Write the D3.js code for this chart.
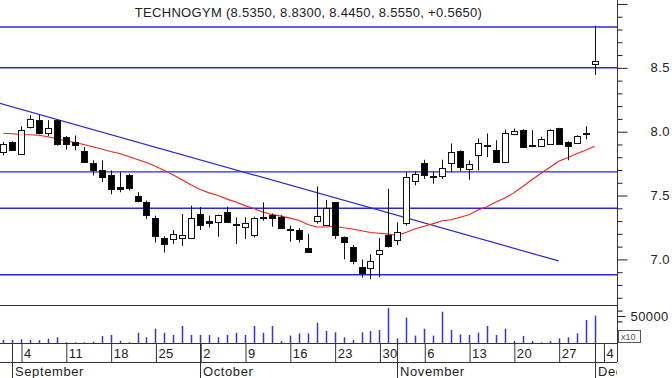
<!DOCTYPE html>
<html>
<head>
<meta charset="utf-8">
<script src="https://cdn.jsdelivr.net/npm/d3@7/dist/d3.min.js"></script>
<style>
  body { margin: 0; background: #fff; }
  svg { display: block; font-family: 'Liberation Sans', Arial, sans-serif; }
</style>
</head>
<body>
<div id="chart"></div>
<script>
// Trading days shown (Aug 31 -> Dec 1, 2017)
const dates = [
  '2017-08-31', '2017-09-01',
  '2017-09-04', '2017-09-05', '2017-09-06', '2017-09-07', '2017-09-08',
  '2017-09-11', '2017-09-12', '2017-09-13', '2017-09-14', '2017-09-15',
  '2017-09-18', '2017-09-19', '2017-09-20', '2017-09-21', '2017-09-22',
  '2017-09-25', '2017-09-26', '2017-09-27', '2017-09-28', '2017-09-29',
  '2017-10-02', '2017-10-03', '2017-10-04', '2017-10-05', '2017-10-06',
  '2017-10-09', '2017-10-10', '2017-10-11', '2017-10-12', '2017-10-13',
  '2017-10-16', '2017-10-17', '2017-10-18', '2017-10-19', '2017-10-20',
  '2017-10-23', '2017-10-24', '2017-10-25', '2017-10-26', '2017-10-27',
  '2017-10-30', '2017-10-31', '2017-11-01', '2017-11-02', '2017-11-03',
  '2017-11-06', '2017-11-07', '2017-11-08', '2017-11-09', '2017-11-10',
  '2017-11-13', '2017-11-14', '2017-11-15', '2017-11-16', '2017-11-17',
  '2017-11-20', '2017-11-21', '2017-11-22', '2017-11-23', '2017-11-24',
  '2017-11-27', '2017-11-28', '2017-11-29', '2017-11-30', '2017-12-01'
];

const open = [
  7.841, 7.920,
  7.833, 8.030, 8.090, 7.990, 8.090,
  7.960, 7.920, 7.850, 7.754, 7.697,
  7.657, 7.563, 7.657, 7.500, 7.447,
  7.324, 7.170, 7.160, 7.167, 7.167,
  7.356, 7.303, 7.298, 7.369, 7.276,
  7.256, 7.193, 7.330, 7.350, 7.330,
  7.236, 7.230, 7.093, 7.300, 7.276,
  7.447, 7.177, 7.098, 6.940, 6.930,
  7.046, 7.190, 7.150, 7.282, 7.613,
  7.754, 7.650, 7.652, 7.757, 7.846,
  7.710, 7.820, 7.898, 7.854, 7.762,
  7.986, 8.017, 7.898, 7.894, 7.900,
  8.025, 7.920, 7.912, 7.988, 8.535
];
const high = [
  7.920, 7.925,
  8.043, 8.130, 8.130, 8.090, 8.095,
  7.965, 7.970, 7.880, 7.776, 7.776,
  7.697, 7.683, 7.670, 7.526, 7.460,
  7.343, 7.180, 7.230, 7.356, 7.420,
  7.410, 7.343, 7.352, 7.413, 7.330,
  7.330, 7.335, 7.447, 7.360, 7.346,
  7.264, 7.245, 7.200, 7.571, 7.466,
  7.450, 7.180, 7.112, 7.000, 7.040,
  7.167, 7.553, 7.290, 7.683, 7.690,
  7.780, 7.689, 7.780, 7.907, 7.854,
  7.776, 7.946, 7.986, 7.933, 8.017,
  8.025, 8.020, 8.012, 7.960, 8.020,
  8.030, 7.925, 7.972, 8.043, 8.830
];
const low = [
  7.815, 7.850,
  7.828, 8.025, 7.980, 7.965, 7.890,
  7.860, 7.854, 7.760, 7.657, 7.605,
  7.510, 7.526, 7.540, 7.447, 7.317,
  7.132, 7.054, 7.120, 7.106, 7.165,
  7.230, 7.250, 7.177, 7.287, 7.120,
  7.160, 7.172, 7.303, 7.256, 7.240,
  7.138, 7.132, 7.060, 7.280, 7.270,
  7.160, 7.000, 6.962, 6.857, 6.844,
  6.860, 7.093, 7.112, 7.264, 7.580,
  7.630, 7.592, 7.630, 7.683, 7.690,
  7.624, 7.697, 7.800, 7.760, 7.762,
  7.972, 7.878, 7.886, 7.894, 7.900,
  7.900, 7.776, 7.910, 7.940, 8.445
];
const close = [
  7.902, 7.854,
  8.017, 8.096, 7.986, 8.030, 7.900,
  7.907, 7.900, 7.760, 7.700, 7.640,
  7.545, 7.550, 7.553, 7.460, 7.343,
  7.185, 7.124, 7.198, 7.193, 7.324,
  7.272, 7.290, 7.350, 7.290, 7.268,
  7.287, 7.324, 7.324, 7.330, 7.246,
  7.228, 7.160, 7.061, 7.339, 7.406,
  7.185, 7.140, 6.988, 6.896, 6.988,
  7.075, 7.106, 7.216, 7.644, 7.665,
  7.657, 7.642, 7.718, 7.840, 7.718,
  7.750, 7.915, 7.890, 7.762, 7.986,
  8.006, 7.886, 7.890, 7.946, 8.012,
  7.900, 7.886, 7.965, 7.990, 8.555
];

// red moving average
const movingAvg = [
  7.988, 7.984,
  7.978, 7.976, 7.972, 7.960, 7.944,
  7.929, 7.915, 7.900, 7.882, 7.865,
  7.845, 7.829, 7.806, 7.782, 7.759,
  7.730, 7.697, 7.661, 7.621, 7.582,
  7.547, 7.521, 7.500, 7.472, 7.449,
  7.421, 7.398, 7.370, 7.352, 7.339,
  7.323, 7.306, 7.273, 7.254, 7.254,
  7.260, 7.248, 7.238, 7.224, 7.211,
  7.205, 7.198, 7.187, 7.212, 7.240,
  7.260, 7.280, 7.303, 7.311, 7.330,
  7.350, 7.387, 7.413, 7.449, 7.480,
  7.521, 7.571, 7.624, 7.673, 7.720,
  7.768, 7.795, 7.827, 7.854, 7.886
];

const volume = [
  5500, 5500,
  7000, 5500, 5500, 8000, 10500,
  1500, 1300, 1300, 2500, 13000,
  14800, 4300, 1300, 19000, 10500,
  26500, 19000, 14800, 31500, 14800,
  14800, 14800, 10500, 14800, 19000,
  14800, 31500, 19000, 31500, 3700,
  13600, 17900, 17900, 37600, 22200,
  19800, 10500, 5500, 19800, 22200,
  24000, 64800, 8600, 46900, 13600,
  26500, 13600, 58000, 24000, 16000,
  14800, 19000, 31500, 14800, 26500,
  3700, 13000, 3700, 1000, 3700,
  8600, 10500, 17900, 42600, 50600
];

// drawn support / resistance levels and the falling trend line
const levels = [8.82, 8.50, 7.685, 7.40, 6.88];
const trendIdx = [-1, 62];
const trendPrice = [8.235, 6.988];

// axis labels
const priceMajor = [7.0, 7.5, 8.0, 8.5, 9.0];
const priceMinor = [6.7, 6.8, 6.9, 7.1, 7.2, 7.3, 7.4, 7.6, 7.7, 7.8, 7.9,
                    8.1, 8.2, 8.3, 8.4, 8.6, 8.7, 8.8, 8.9];
const weekIdx = [2, 7, 12, 17, 22, 27, 32, 37, 42, 47, 52, 57, 62, 67];
const weekLabels = ['4', '11', '18', '25', '2', '9', '16', '23', '30', '6', '13', '20', '27', '4'];
const monthIdx = [1, 22, 44, 66];
const monthNames = ['September', 'October', 'November', 'December'];
const title = 'TECHNOGYM (8.5350, 8.8300, 8.4450, 8.5550, +0.5650)';

const W = 672, H = 378;
const plotR = 617, priceBottom = 305, volBottom = 343, dayBottom = 362;
const blue = '#2a2ad2', red = '#e8261c', ink = '#222';

const svg = d3.select('#chart').append('svg')
    .attr('width', W)
    .attr('height', H);

const defs = svg.append('defs');
defs.append('clipPath').attr('id', 'clipPrice')
    .append('rect').attr('x', 0).attr('y', 0).attr('width', plotR).attr('height', priceBottom);
defs.append('clipPath').attr('id', 'clipDates')
    .append('rect').attr('x', 0).attr('y', volBottom).attr('width', plotR).attr('height', H - volBottom);

// Scales
const x = d3.scaleLinear()
    .domain([0, dates.length - 1])
    .range([3.1, 594.5]);

const y = d3.scaleLinear()
    .domain([6.643, 9.031])
    .range([priceBottom, 0]);

const yVol = d3.scaleLinear()
    .domain([0, 50000])
    .range([volBottom, 316]);

const px = v => Math.round(v) + 0.5;

// Price panel
const price = svg.append('g').attr('clip-path', 'url(#clipPrice)');

price.append('g')
    .selectAll('line')
    .data(levels)
    .join('line')
    .attr('x1', 0)
    .attr('x2', plotR)
    .attr('y1', d => y(d))
    .attr('y2', d => y(d))
    .attr('stroke', blue)
    .attr('stroke-width', 1.4);

price.append('line')
    .attr('x1', x(trendIdx[0]))
    .attr('y1', y(trendPrice[0]))
    .attr('x2', x(trendIdx[1]))
    .attr('y2', y(trendPrice[1]))
    .attr('stroke', blue)
    .attr('stroke-width', 1.2);

price.append('path')
    .datum(movingAvg)
    .attr('fill', 'none')
    .attr('stroke', red)
    .attr('stroke-width', 1.1)
    .attr('d', d3.line().x((d, i) => x(i)).y(d => y(d)));

// Candles
const candles = price.append('g')
    .selectAll('g')
    .data(dates.map((d, i) => i))
    .join('g');

candles.append('line')
    .attr('x1', i => px(x(i)))
    .attr('x2', i => px(x(i)))
    .attr('y1', i => y(high[i]))
    .attr('y2', i => y(low[i]))
    .attr('stroke', '#111')
    .attr('stroke-width', 1);

candles.append('rect')
    .attr('x', i => Math.round(x(i)) - 2.5)
    .attr('y', i => Math.round(y(Math.max(open[i], close[i]))) + 0.5)
    .attr('width', 6)
    .attr('height', i => Math.max(1, Math.round(Math.abs(y(open[i]) - y(close[i])))))
    .attr('fill', i => close[i] < open[i] ? '#000' : '#fff')
    .attr('stroke', '#111')
    .attr('stroke-width', 1);

// Volume bars
svg.append('g')
    .selectAll('line')
    .data(volume)
    .join('line')
    .attr('x1', (d, i) => px(x(i)))
    .attr('x2', (d, i) => px(x(i)))
    .attr('y1', yVol(0))
    .attr('y2', d => yVol(d))
    .attr('stroke', '#3636d6')
    .attr('stroke-width', 1.5);

// Frame lines
const frame = svg.append('g').attr('stroke', '#333').attr('stroke-width', 1);
[priceBottom, volBottom, dayBottom].forEach(v => {
    frame.append('line').attr('x1', 0).attr('x2', plotR).attr('y1', v + 0.5).attr('y2', v + 0.5);
});
frame.append('line').attr('x1', plotR + 0.5).attr('x2', plotR + 0.5).attr('y1', 0).attr('y2', dayBottom);

// Right price axis
const yAxisMinor = svg.append('g')
    .attr('transform', `translate(${plotR + 0.5},0)`)
    .call(d3.axisRight(y).tickValues(priceMinor).tickSize(5).tickFormat(''));

const yAxisMajor = svg.append('g')
    .attr('transform', `translate(${plotR + 0.5},0)`)
    .call(d3.axisRight(y).tickValues(priceMajor).tickSize(10).tickPadding(23)
        .tickFormat(d => d > 8.9 ? '' : d3.format('.1f')(d)));

// Volume axis
const volAxis = svg.append('g')
    .attr('transform', `translate(${plotR + 0.5},0)`)
    .call(d3.axisRight(yVol).tickValues([50000]).tickSize(8).tickPadding(5)
        .tickFormat(d => d));

svg.append('g')
    .attr('transform', `translate(${plotR + 0.5},0)`)
    .call(d3.axisRight(yVol).tickValues([40000, 60000]).tickSize(5).tickFormat(''))
    .select('.domain').remove();

[yAxisMinor, yAxisMajor, volAxis].forEach(a => {
    a.select('.domain').remove();
    a.selectAll('line').attr('stroke', '#222');
    a.selectAll('text')
        .attr('font-family', 'Liberation Sans, Arial, sans-serif')
        .attr('font-size', 13)
        .attr('letter-spacing', '0.4px')
        .attr('fill', ink);
});

// x10 marker
svg.append('rect')
    .attr('x', 618.5).attr('y', 330.5)
    .attr('width', 22).attr('height', 12)
    .attr('fill', '#fff')
    .attr('stroke', '#555');
svg.append('text')
    .attr('x', 621).attr('y', 340)
    .attr('font-size', 9)
    .attr('fill', '#555')
    .text('x10');

// Date axis
const dateArea = svg.append('g').attr('clip-path', 'url(#clipDates)');

const xAxis = dateArea.append('g')
    .attr('transform', `translate(0,${volBottom})`)
    .call(d3.axisBottom(x).tickValues(weekIdx).tickSize(dayBottom - volBottom)
        .tickFormat((d, i) => weekLabels[i]));

xAxis.select('.domain').remove();
xAxis.selectAll('line').attr('stroke', '#333').attr('transform', 'translate(0.5,0)');
xAxis.selectAll('text')
    .attr('x', 2.5)
    .attr('y', 15)
    .attr('dy', null)
    .attr('text-anchor', 'start')
    .attr('font-family', 'Liberation Sans, Arial, sans-serif')
    .attr('font-size', 13)
    .attr('letter-spacing', '0.3px')
    .attr('fill', ink);

const months = dateArea.append('g')
    .selectAll('g')
    .data(monthIdx)
    .join('g')
    .attr('transform', d => `translate(${px(x(d))},0)`);

months.append('line')
    .attr('y1', volBottom)
    .attr('y2', H)
    .attr('stroke', '#333');

months.append('text')
    .attr('x', 2.5)
    .attr('y', 376)
    .attr('font-size', 13)
    .attr('letter-spacing', '0.6px')
    .attr('fill', ink)
    .text((d, i) => monthNames[i]);

// Title
svg.append('text')
    .attr('x', 308.5)
    .attr('y', 17)
    .attr('text-anchor', 'middle')
    .attr('font-size', 13)
    .attr('letter-spacing', '0.3px')
    .attr('fill', ink)
    .text(title);
</script>
</body>
</html>
